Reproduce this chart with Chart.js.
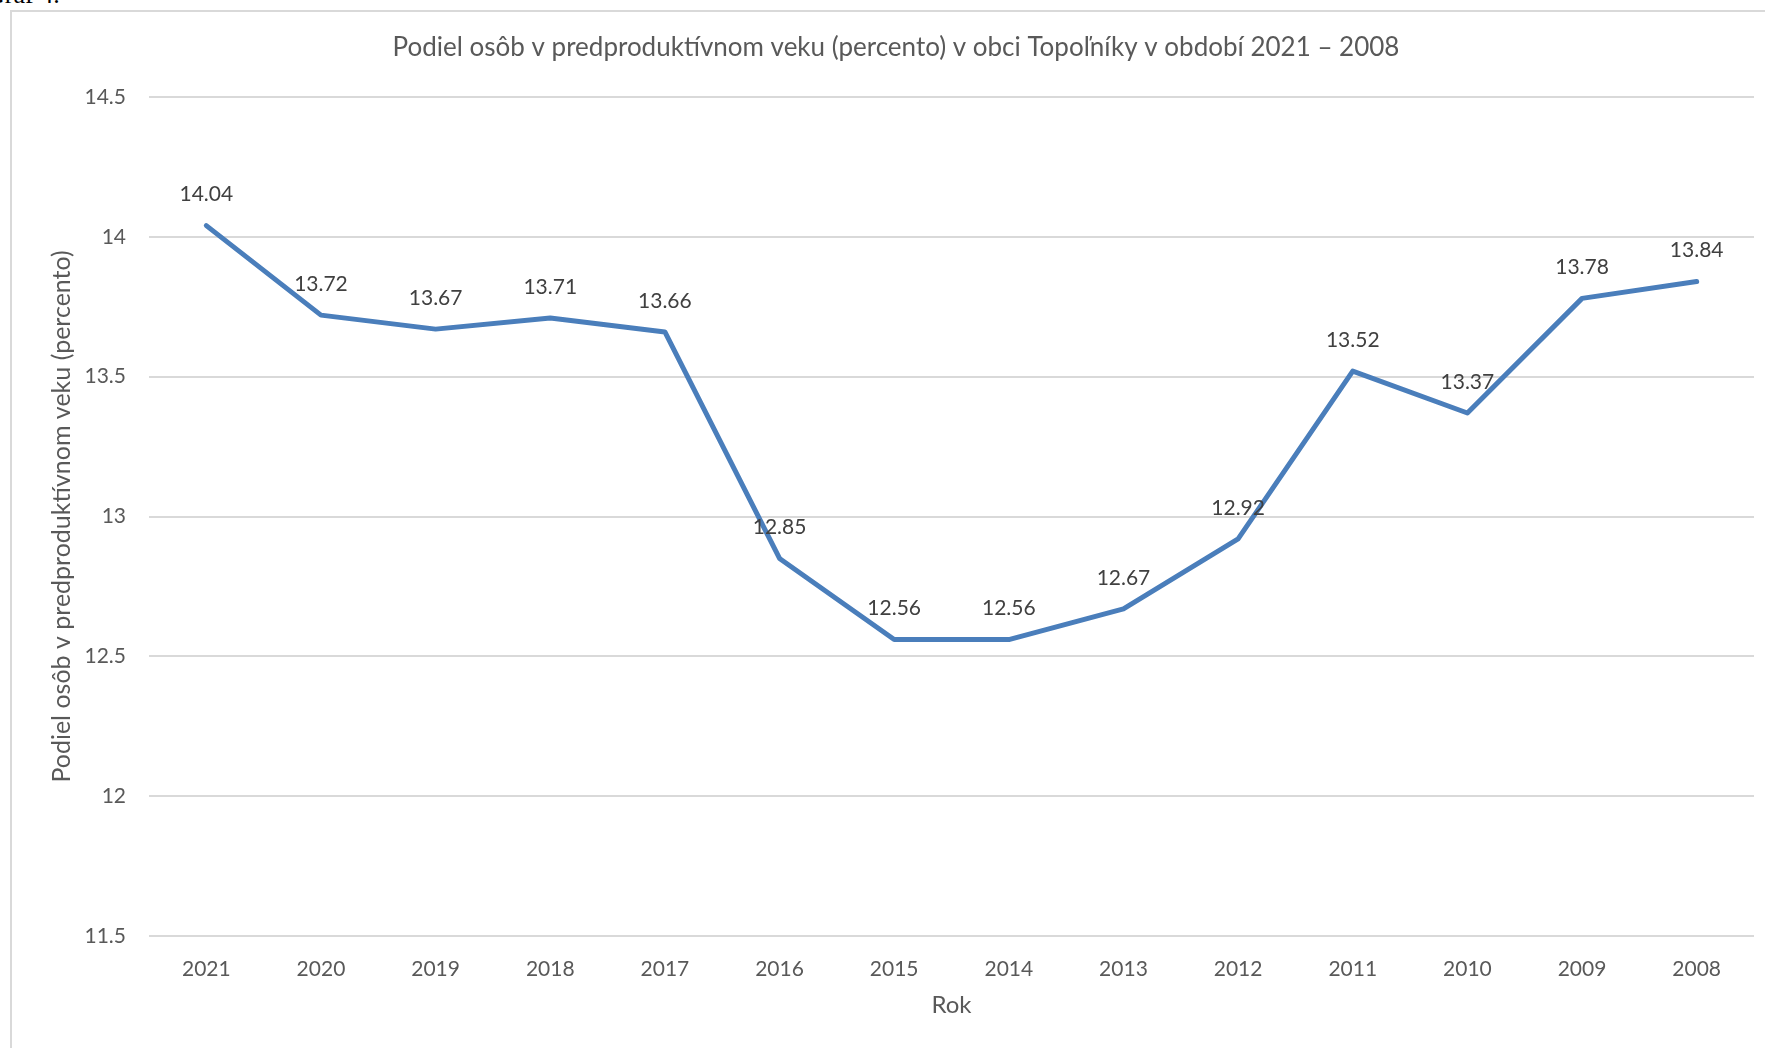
<!DOCTYPE html>
<html>
<head>
<meta charset="utf-8">
<script src="https://cdn.jsdelivr.net/npm/chart.js@4/dist/chart.umd.min.js"></script>
<style>
  html, body { margin: 0; padding: 0; background: #fff; overflow: hidden; }
  body { width: 1765px; height: 1048px; position: relative; }
  #caption {
    position: absolute; left: -14px; top: -20px;
    font: 26px "Liberation Serif", serif; color: #000; white-space: nowrap;
  }
  #frame {
    position: absolute; left: 10px; top: 10px; width: 1800px; height: 1100px;
    border: 2px solid #d9d9d9; box-sizing: border-box;
  }
  /* the chart frame runs past the right edge of the page */
  #wrap { position: absolute; left: 0; top: 0; width: 1793px; height: 1048px; }
</style>
</head>
<body>
<div id="caption">Graf 4.</div>
<div id="frame"></div>
<div id="wrap"><canvas id="chart"></canvas></div>
<script>
// Podiel osôb v predproduktívnom veku, Topoľníky
const years = ['2021', '2020', '2019', '2018', '2017', '2016', '2015',
               '2014', '2013', '2012', '2011', '2010', '2009', '2008'];
const shares = [14.04, 13.72, 13.67, 13.71, 13.66, 12.85, 12.56,
                12.56, 12.67, 12.92, 13.52, 13.37, 13.78, 13.84];

const FONT = 'Lato, Carlito, "Open Sans", sans-serif';

// data labels above each point
const pointLabels = {
  id: 'pointLabels',
  afterDatasetsDraw(chart) {
    const ctx = chart.ctx;
    const meta = chart.getDatasetMeta(0);
    ctx.save();
    ctx.font = '21px ' + FONT;
    ctx.fillStyle = '#404040';
    ctx.textAlign = 'center';
    ctx.textBaseline = 'middle';
    meta.data.forEach((pt, i) => {
      ctx.fillText(shares[i].toFixed(2), pt.x, pt.y - 31);
    });
    ctx.restore();
  }
};

new Chart(document.getElementById('chart'), {
  type: 'line',
  data: {
    labels: years,
    datasets: [{
      data: shares,
      borderColor: '#4a7ebb',
      borderWidth: 5,
      borderCapStyle: 'round',
      borderJoinStyle: 'round',
      pointRadius: 0,
      tension: 0,
      fill: false
    }]
  },
  options: {
    responsive: true,
    maintainAspectRatio: false,
    animation: false,
    layout: { padding: { left: 38, right: 39, top: 0, bottom: 0 } },
    plugins: {
      legend: { display: false },
      tooltip: { enabled: false },
      title: {
        display: true,
        text: 'Podiel osôb v predproduktívnom veku (percento) v obci Topoľníky v období 2021 – 2008',
        color: '#595959',
        font: { family: FONT, size: 26, weight: 'normal' },
        padding: { top: 32.4, bottom: 33.4 }
      }
    },
    scales: {
      x: {
        offset: true,
        grid: { display: false },
        border: { display: false },
        ticks: { color: '#595959', font: { family: FONT, size: 21 }, padding: 13, maxRotation: 0 },
        title: {
          display: true, text: 'Rok', color: '#595959',
          font: { family: FONT, size: 24 }, padding: { top: 0, bottom: 28.6 }
        },
        afterFit(scale) { scale.height = 112; }
      },
      y: {
        min: 11.5,
        max: 14.5,
        grid: { color: '#d9d9d9', lineWidth: 2, drawTicks: false },
        border: { display: false },
        ticks: {
          stepSize: 0.5, color: '#595959', padding: 23,
          font: { family: FONT, size: 21 },
          callback: v => String(v)
        },
        title: {
          display: true, text: 'Podiel osôb v predproduktívnom veku (percento)', color: '#595959',
          font: { family: FONT, size: 25 }, padding: { top: 9, bottom: 0 }
        },
        afterFit(scale) { scale.width = 111; }
      }
    }
  },
  plugins: [pointLabels]
});
</script>
</body>
</html>
